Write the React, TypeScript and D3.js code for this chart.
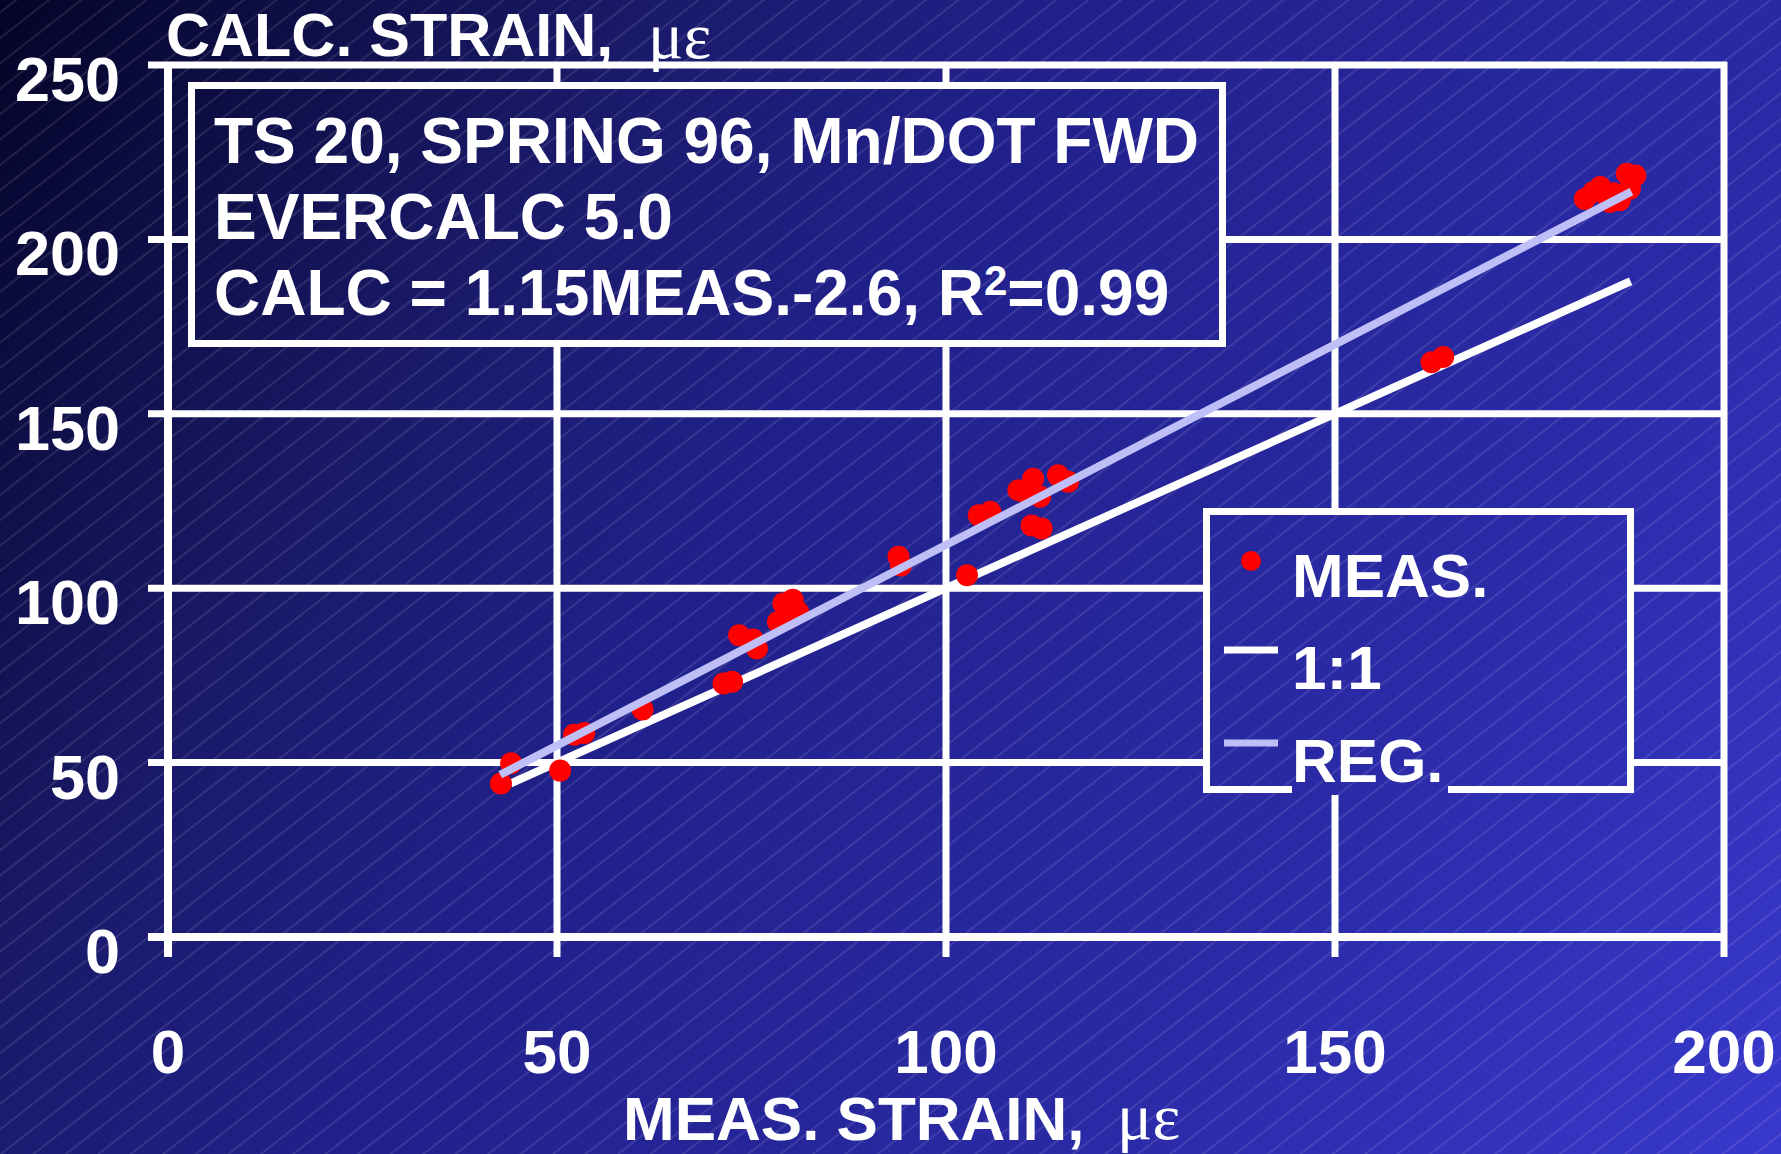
import React, { useEffect } from "react";
import * as d3 from "d3";

const W = 1781;
const H = 1154;

const xTicks = [0, 50, 100, 150, 200];
const yTicks = [0, 50, 100, 150, 200, 250];

// measured strain (x) and calculated strain (y)
const measStrain = [
  42.8, 44.1, 50.4, 52.2, 53.5, 61.0,
  71.4, 72.5, 73.4, 75.2, 75.7, 79.1, 80.3, 81.0, 78.4, 79.7,
  93.9, 94.2, 102.7, 104.2, 105.7, 109.3, 111.2, 112.1, 110.4, 111.0, 112.3, 114.4, 115.7,
  162.4, 163.9,
  182.1, 183.2, 184.1, 185.3, 186.6, 185.8, 187.5, 188.6, 187.9,
];
const calcStrain = [
  44.0, 49.8, 47.7, 58.0, 58.5, 65.2,
  72.7, 73.2, 86.5, 85.3, 82.7, 95.6, 96.7, 93.2, 90.3, 91.3,
  109.0, 106.5, 103.7, 120.9, 121.9, 128.1, 131.4, 126.2, 127.1, 118.0, 117.1, 132.4, 130.5,
  164.8, 166.3,
  211.6, 213.6, 215.0, 210.7, 211.2, 213.2, 218.8, 218.3, 214.5,
];

const oneToOneLine = [
  { x: 44, y: 44 },
  { x: 188, y: 188 },
];
const regLine = [
  { x: 42.7, y: 46.5 },
  { x: 188.1, y: 213.7 },
];

const titleLines = ["TS 20, SPRING 96, Mn/DOT FWD", "EVERCALC 5.0"];
const legendLabels = ["MEAS.", "1:1", "REG."];

const SANS = "'Liberation Sans', Arial, Helvetica, sans-serif";
const SERIF = "'Liberation Serif', 'Times New Roman', serif";

export default function App() {
  useEffect(() => {
    document.body.style.margin = "0";
    document.body.style.overflow = "hidden";
  }, []);

  const x = d3.scaleLinear().domain([0, 200]).range([168, 1724]);
  const y = d3.scaleLinear().domain([0, 250]).range([937, 65]);

  const lineGen = d3
    .line<{ x: number; y: number }>()
    .x((d) => x(d.x))
    .y((d) => y(d.y));

  const points = measStrain.map((m, i) => ({ x: m, y: calcStrain[i] }));

  const tickLen = 20;
  const gridW = 7;

  const BoxBg = ({ x0, y0, w, h }: { x0: number; y0: number; w: number; h: number }) => (
    <g>
      <rect x={x0} y={y0} width={w} height={h} fill="url(#bgGrad)" />
      <rect x={x0} y={y0} width={w} height={h} fill="url(#hatch)" />
    </g>
  );

  return (
    <svg
      width={W}
      height={H}
      viewBox={`0 0 ${W} ${H}`}
      style={{ display: "block", position: "absolute", left: 0, top: 0 }}
    >
      <defs>
        <linearGradient id="bgGrad" gradientUnits="userSpaceOnUse" x1={0} y1={0} x2={W} y2={H}>
          <stop offset="0" stopColor="#040428" />
          <stop offset="0.26" stopColor="#1a1a6a" />
          <stop offset="0.42" stopColor="#20208a" />
          <stop offset="0.72" stopColor="#2a2aa6" />
          <stop offset="1" stopColor="#3838cc" />
        </linearGradient>
        <pattern
          id="hatch"
          patternUnits="userSpaceOnUse"
          width={20}
          height={20}
          patternTransform="rotate(-38)"
        >
          <line x1={0} y1={10} x2={20} y2={10} stroke="#ffffff" strokeOpacity={0.2} strokeWidth={1} />
        </pattern>
      </defs>

      {/* background */}
      <rect x={0} y={0} width={W} height={H} fill="url(#bgGrad)" />
      <rect x={0} y={0} width={W} height={H} fill="url(#hatch)" />

      {/* grid lines (horizontal) */}
      {yTicks.map((t) => (
        <line
          key={"h" + t}
          x1={x(0) - tickLen}
          x2={x(200) + 3}
          y1={y(t)}
          y2={y(t)}
          stroke="#ffffff"
          strokeWidth={t === 0 ? 8 : gridW}
        />
      ))}
      {/* grid lines (vertical) */}
      {xTicks.map((t) => (
        <line
          key={"v" + t}
          x1={x(t)}
          x2={x(t)}
          y1={y(250) - 3}
          y2={y(0) + tickLen}
          stroke="#ffffff"
          strokeWidth={t === 0 ? 8 : gridW}
        />
      ))}

      {/* y tick labels */}
      {yTicks.map((t) => (
        <text
          key={"yl" + t}
          x={120}
          y={y(t) + 36}
          textAnchor="end"
          fill="#ffffff"
          fontFamily={SANS}
          fontWeight="bold"
          fontSize={63}
        >
          {t}
        </text>
      ))}
      {/* x tick labels */}
      {xTicks.map((t) => (
        <text
          key={"xl" + t}
          x={x(t)}
          y={1073}
          textAnchor="middle"
          fill="#ffffff"
          fontFamily={SANS}
          fontWeight="bold"
          fontSize={62}
        >
          {t}
        </text>
      ))}

      {/* axis titles */}
      <text x={166} y={56} fill="#ffffff" fontFamily={SANS} fontWeight="bold" fontSize={61}>
        CALC. STRAIN,
        <tspan x={648} y={58} fontFamily={SERIF} fontWeight="normal" fontSize={66}>
          με
        </tspan>
      </text>
      <text x={623} y={1140} fill="#ffffff" fontFamily={SANS} fontWeight="bold" fontSize={62}>
        MEAS. STRAIN,
        <tspan x={1117} y={1139} fontFamily={SERIF} fontWeight="normal" fontSize={66}>
          με
        </tspan>
      </text>

      {/* title box */}
      <BoxBg x0={191.5} y0={85.5} w={1031} h={258} />
      <rect x={191.5} y={85.5} width={1031} height={258} fill="none" stroke="#ffffff" strokeWidth={7} />
      <text x={214} y={163} fill="#ffffff" fontFamily={SANS} fontWeight="bold" fontSize={64}>
        {titleLines[0]}
      </text>
      <text x={214} y={239} fill="#ffffff" fontFamily={SANS} fontWeight="bold" fontSize={64}>
        {titleLines[1]}
      </text>
      <text x={214} y={315} fill="#ffffff" fontFamily={SANS} fontWeight="bold" fontSize={64}>
        CALC = 1.15MEAS.-2.6, R
        <tspan dy={-20} fontSize={42}>
          2
        </tspan>
        <tspan dy={20}>=0.99</tspan>
      </text>

      {/* 1:1 line */}
      <path d={lineGen(oneToOneLine) || ""} stroke="#ffffff" strokeWidth={8} fill="none" />

      {/* measured points */}
      {points.map((p, i) => (
        <circle key={"p" + i} cx={x(p.x)} cy={y(p.y)} r={11} fill="#ff0000" />
      ))}

      {/* regression line */}
      <path d={lineGen(regLine) || ""} stroke="#bfbff7" strokeWidth={8} fill="none" />

      {/* legend */}
      <BoxBg x0={1206.5} y0={511.5} w={424} h={278} />
      <rect x={1206.5} y={511.5} width={424} height={278} fill="none" stroke="#ffffff" strokeWidth={7} />
      <BoxBg x0={1292} y0={725} w={156} h={70} />
      <circle cx={1251} cy={561} r={10} fill="#ff0000" />
      <line x1={1224} x2={1278} y1={650} y2={650} stroke="#ffffff" strokeWidth={7} />
      <line x1={1224} x2={1278} y1={743} y2={743} stroke="#bfbff7" strokeWidth={7} />
      <text x={1292} y={597} fill="#ffffff" fontFamily={SANS} fontWeight="bold" fontSize={62}>
        {legendLabels[0]}
      </text>
      <text x={1292} y={689} fill="#ffffff" fontFamily={SANS} fontWeight="bold" fontSize={62}>
        {legendLabels[1]}
      </text>
      <text x={1292} y={782} fill="#ffffff" fontFamily={SANS} fontWeight="bold" fontSize={62}>
        {legendLabels[2]}
      </text>
    </svg>
  );
}
